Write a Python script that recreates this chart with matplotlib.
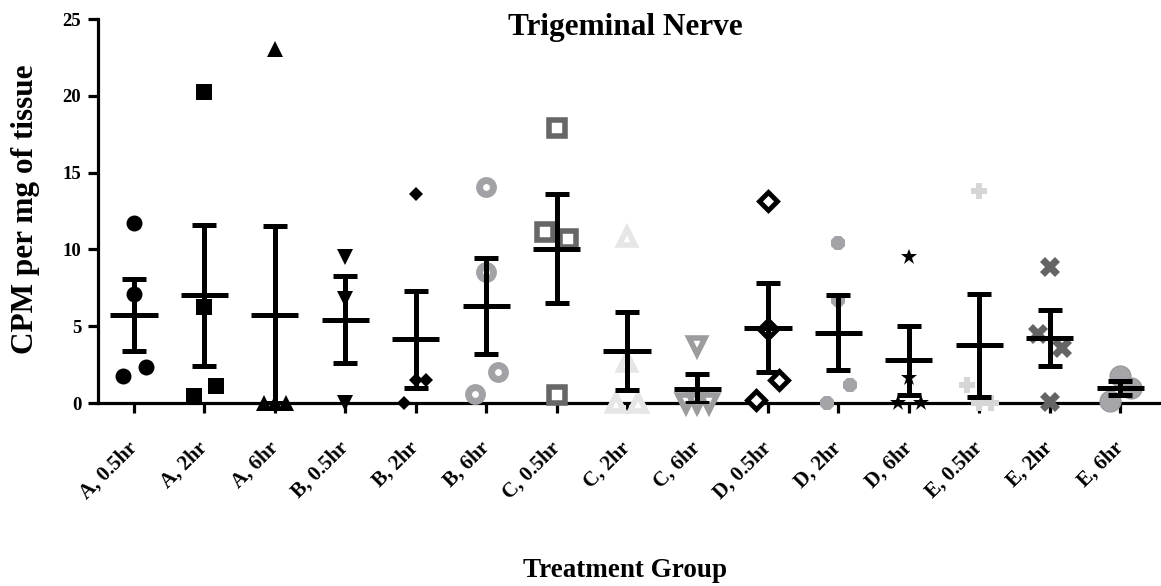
import numpy as np
import matplotlib
matplotlib.use("Agg")
import matplotlib.pyplot as plt

plt.rcParams['font.family'] = ['Liberation Serif', 'DejaVu Serif']
plt.rcParams['font.weight'] = 'bold'

# CPM per mg of tissue, one list per treatment group
groups = ['A, 0.5hr', 'A, 2hr', 'A, 6hr', 'B, 0.5hr', 'B, 2hr', 'B, 6hr',
          'C, 0.5hr', 'C, 2hr', 'C, 6hr', 'D, 0.5hr', 'D, 2hr', 'D, 6hr',
          'E, 0.5hr', 'E, 2hr', 'E, 6hr']
a_05 = [11.74, 7.07, 1.78, 2.37]
a_2 = [20.25, 6.23, 0.48, 1.13]
a_6 = [23.03, 0.0, 0.0, 0.0]
b_05 = [9.5, 6.8, 0.0]
b_2 = [13.6, 1.5, 1.5, 0.0]
b_6 = [14.08, 8.55, 2.0, 0.57]
c_05 = [17.88, 11.15, 10.68, 0.52]
c_2 = [10.79, 2.69, 0.0, 0.0]
c_6 = [3.72, 0.0, 0.0, 0.0]
d_05 = [13.15, 4.8, 1.5, 0.2]
d_2 = [10.44, 6.7, 1.17, 0.02]
d_6 = [9.48, 1.61, 0.0, 0.0]
e_05 = [13.82, 1.17, 0.0, 0.0]
e_2 = [8.88, 4.47, 3.56, 0.08]
e_6 = [1.75, 1.0, 0.15]
values = [a_05, a_2, a_6, b_05, b_2, b_6, c_05, c_2, c_6,
          d_05, d_2, d_6, e_05, e_2, e_6]

# horizontal scatter so overlapping points stay visible
spread = [[0, 0, -0.15, 0.17], [0, 0, -0.15, 0.16], [0, -0.16, 0, 0.16],
          [0, 0, 0], [0, 0, 0.15, -0.17], [0, 0, 0.17, -0.16],
          [0, -0.16, 0.16, 0], [0, 0, -0.16, 0.16], [0, -0.17, 0, 0.16],
          [0, 0, 0.16, -0.17], [0, 0, 0.16, -0.16], [0, 0, -0.16, 0.17],
          [0, -0.17, 0, 0.17], [0, -0.17, 0.17, 0], [0, 0.16, -0.14]]

# marker, size, face, edge, edge width
styles = [
    ('o', 11.5, 'black', 'black', 0),
    ('s', 11, 'black', 'black', 0),
    ('^', 11.5, 'black', 'black', 0),
    ('v', 11, 'black', 'black', 0),
    ('D', 7, 'black', 'black', 0),
    ('o', 10, 'white', '#a2a2a6', 5),
    ('s', 11, 'white', '#676767', 4),
    ('^', 12, 'white', '#e6e6e6', 4),
    ('v', 12, 'white', '#9c9c9e', 4),
    ('D', 9, 'white', 'black', 3.5),
    ('8', 11.5, '#a4a4a8', '#a4a4a8', 0),
    ('*', 12, 'black', 'black', 0),
    ('P', 12, '#d6d6d6', '#d6d6d6', 0),
    ('X', 14, '#646464', '#646464', 0),
    ('o', 15, '#a6a6aa', '#9a9a9e', 1),
]

fig = plt.figure(figsize=(11.61, 5.86), dpi=100)
ax = fig.add_axes([98 / 1161, 183 / 586, 1063 / 1161, 384 / 586])

pos = np.arange(len(groups))
for i, vals in enumerate(values):
    vals = np.array(vals)
    xs = pos[i] + np.array(spread[i][:len(vals)])
    m, ms, fc, ec, mew = styles[i]
    ax.plot(xs, vals, linestyle='none', marker=m, markersize=ms,
            markerfacecolor=fc, markeredgecolor=ec, markeredgewidth=mew,
            zorder=3, clip_on=False)

    # mean with SEM bars
    mean = vals.mean()
    sem = vals.std(ddof=1) / np.sqrt(len(vals))
    ax.errorbar(pos[i], mean, yerr=sem, fmt='none', ecolor='black',
                elinewidth=3.6, capsize=8.3, capthick=3.6, zorder=4)
    ax.hlines(mean, pos[i] - 0.335, pos[i] + 0.335, color='black',
              linewidth=3.6, zorder=4)

ax.set_xlim(-0.51, 14.58)
ax.set_ylim(0, 25)
ax.set_yticks([0, 5, 10, 15, 20, 25])
ax.set_xticks(pos)
ax.set_xticklabels(groups, rotation=45, ha='right', va='center',
                   rotation_mode='anchor', fontsize=15, fontweight='bold')
for lbl in ax.get_yticklabels():
    lbl.set_fontsize(13.5)
    lbl.set_fontweight('bold')

for side in ['top', 'right']:
    ax.spines[side].set_visible(False)
for side in ['left', 'bottom']:
    ax.spines[side].set_linewidth(2.3)
ax.tick_params(axis='both', direction='out', length=7, width=2.3)
ax.tick_params(axis='x', pad=23)
ax.tick_params(axis='y', pad=5)

fig.text(625 / 1161, 1 - 35 / 586, 'Trigeminal Nerve', ha='center',
         va='baseline', fontsize=22.5, fontweight='bold')
fig.text(26 / 1161, 1 - 209 / 586, 'CPM per mg of tissue', rotation=90,
         ha='center', va='center', fontsize=22.5, fontweight='bold')
fig.text(625 / 1161, 1 - 577 / 586, 'Treatment Group', ha='center',
         va='baseline', fontsize=19.5, fontweight='bold')

fig.savefig('out.png', dpi=100)
